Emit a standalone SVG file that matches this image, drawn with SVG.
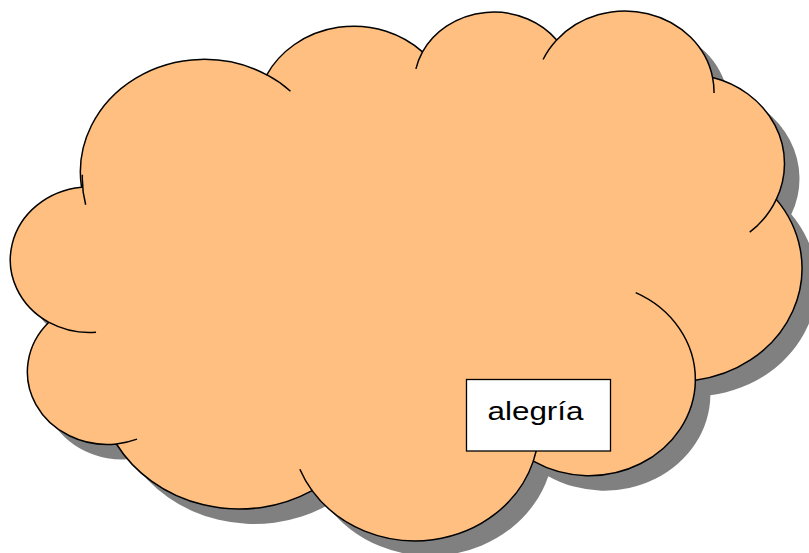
<svg xmlns="http://www.w3.org/2000/svg" xmlns:xlink="http://www.w3.org/1999/xlink" width="809" height="553" viewBox="0 0 809 553">
<style>
.cloud-fill{fill:#FFBF80;stroke:#000000;stroke-width:1.5}
.cloud-shadow{fill:#808080;stroke:none}
.inner{fill:none;stroke:#000000;stroke-width:1.5;vector-effect:non-scaling-stroke}
.box{fill:#FFFFFF;stroke:#000000;stroke-width:1.3}
.label{font-family:"Liberation Sans",Arial,sans-serif;font-size:25.5px;fill:#000000}
</style>
<defs>
<path id="cloudPath" vector-effect="non-scaling-stroke" d="M3900 14370 A6753 9190 0 0 1 14005 5202 A5333 7267 0 0 1 22500 3330 A4365 5945 0 0 1 29820 2360 A4857 6595 0 0 1 38324 5426 A5333 7273 0 0 1 41798 15354 A6775 9220 0 0 1 37384 30097 A5785 7867 0 0 1 28545 36690 A6752 9215 0 0 1 16478 39090 A7720 10543 0 0 1 5805 35292 A4360 5918 0 0 1 2120 25375 A4345 5945 0 0 1 3900 14370 Z"/>
</defs>
<g id="cloud">
<g transform="translate(25,26) scale(0.0183333,0.0122685)">
<use xlink:href="#cloudPath" href="#cloudPath" class="cloud-shadow"/>
</g>
<g transform="translate(10,11) scale(0.0183333,0.0122685)">
<use xlink:href="#cloudPath" href="#cloudPath" class="cloud-fill"/>
<path class="inner" d="M4693 26177 A4345 5945 0 0 1 2130 25376 M6928 34899 A4360 5918 0 0 1 5810 35290 M16478 39090 A6752 9215 0 0 1 15810 37350 M28827 34751 A6752 9215 0 0 1 28545 36690 M34129 22954 A5785 7867 0 0 1 37383 30094 M41798 15354 A5333 7273 0 0 1 40349 18031 M38324 5426 A4857 6595 0 0 1 38400 6690 M29078 3952 A4857 6595 0 0 1 29820 2360 M22141 4720 A4365 5945 0 0 1 22500 3330 M14000 5192 A6753 9190 0 0 1 15300 6540 M4127 15789 A6753 9190 0 0 1 3947 13342"/>
</g>
</g>
<g id="connectors"></g>
<g id="label-alegria">
<rect class="box" x="466.5" y="379.5" width="144" height="71.5"/>
<text class="label" x="487.5" y="419.5" textLength="96" lengthAdjust="spacingAndGlyphs">alegría</text>
</g>
</svg>
